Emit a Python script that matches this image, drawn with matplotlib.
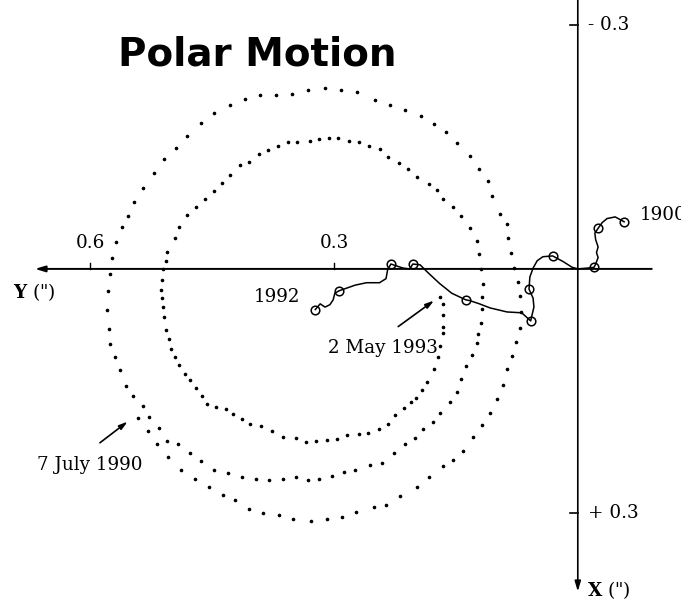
import matplotlib
matplotlib.use("Agg")
import matplotlib.pyplot as plt
import numpy as np

plt.rcParams["mathtext.fontset"] = "dejavuserif"

# ---- 5-day pole positions 7 July 1990 -> 2 May 1993 (arcsec) ----
# y_pole: positive to the left ; x_pole: positive downward
spiral_y = [0.541, 0.529, 0.518, 0.504, 0.488, 0.471, 0.454, 0.437, 0.422, 0.405,
            0.387, 0.368, 0.351, 0.328, 0.308, 0.290, 0.273, 0.251, 0.236, 0.219,
            0.198, 0.183, 0.166, 0.154, 0.141, 0.129, 0.118, 0.108, 0.100, 0.092,
            0.087, 0.081, 0.076, 0.071, 0.070, 0.071, 0.073, 0.079, 0.082, 0.086,
            0.087, 0.096, 0.105, 0.111, 0.121, 0.133, 0.149, 0.162, 0.177, 0.193,
            0.213, 0.231, 0.250, 0.272, 0.292, 0.311, 0.332, 0.352, 0.371, 0.391,
            0.410, 0.428, 0.448, 0.464, 0.481, 0.494, 0.509, 0.522, 0.535, 0.546,
            0.554, 0.561, 0.568, 0.573, 0.576, 0.578, 0.579, 0.577, 0.576, 0.569,
            0.563, 0.556, 0.547, 0.535, 0.528, 0.515, 0.506, 0.492, 0.477, 0.464,
            0.448, 0.431, 0.413, 0.396, 0.380, 0.363, 0.347, 0.332, 0.319, 0.303,
            0.288, 0.274, 0.256, 0.241, 0.226, 0.213, 0.200, 0.191, 0.178, 0.169,
            0.157, 0.149, 0.144, 0.137, 0.130, 0.124, 0.123, 0.119, 0.118, 0.118,
            0.117, 0.119, 0.121, 0.124, 0.133, 0.144, 0.154, 0.166, 0.173, 0.183,
            0.198, 0.209, 0.220, 0.234, 0.244, 0.257, 0.269, 0.282, 0.295, 0.306,
            0.319, 0.330, 0.346, 0.357, 0.369, 0.381, 0.392, 0.405, 0.416, 0.428,
            0.438, 0.448, 0.459, 0.470, 0.481, 0.491, 0.496, 0.506, 0.507, 0.510,
            0.512, 0.513, 0.512, 0.510, 0.509, 0.507, 0.503, 0.501, 0.496, 0.491,
            0.483, 0.477, 0.470, 0.462, 0.456, 0.445, 0.433, 0.424, 0.413, 0.403,
            0.390, 0.376, 0.363, 0.347, 0.335, 0.322, 0.308, 0.296, 0.284, 0.269,
            0.258, 0.245, 0.234, 0.225, 0.214, 0.205, 0.199, 0.192, 0.185, 0.177,
            0.172, 0.169, 0.166, 0.166, 0.166, 0.166, 0.170]
spiral_x = [0.183, 0.199, 0.216, 0.232, 0.247, 0.258, 0.268, 0.278, 0.285, 0.295,
            0.301, 0.303, 0.308, 0.310, 0.308, 0.305, 0.299, 0.293, 0.290, 0.280,
            0.268, 0.256, 0.242, 0.235, 0.224, 0.207, 0.192, 0.177, 0.160, 0.143,
            0.123, 0.107, 0.090, 0.073, 0.053, 0.033, 0.016, -0.001, -0.020, -0.038,
            -0.055, -0.068, -0.090, -0.108, -0.123, -0.139, -0.155, -0.169, -0.178, -0.188,
            -0.196, -0.202, -0.208, -0.218, -0.220, -0.223, -0.220, -0.215, -0.214, -0.214,
            -0.209, -0.202, -0.192, -0.180, -0.164, -0.149, -0.135, -0.118, -0.100, -0.082,
            -0.065, -0.052, -0.033, -0.014, 0.006, 0.027, 0.050, 0.074, 0.092, 0.108,
            0.125, 0.144, 0.156, 0.169, 0.182, 0.196, 0.212, 0.216, 0.226, 0.236,
            0.247, 0.251, 0.256, 0.258, 0.260, 0.258, 0.256, 0.260, 0.258, 0.255,
            0.250, 0.247, 0.241, 0.239, 0.226, 0.216, 0.208, 0.197, 0.188, 0.177,
            0.164, 0.151, 0.135, 0.119, 0.106, 0.091, 0.080, 0.066, 0.049, 0.034,
            0.018, 0.000, -0.018, -0.034, -0.050, -0.065, -0.076, -0.086, -0.097, -0.105,
            -0.113, -0.123, -0.130, -0.138, -0.148, -0.151, -0.156, -0.157, -0.161, -0.161,
            -0.160, -0.157, -0.156, -0.156, -0.151, -0.146, -0.141, -0.132, -0.128, -0.116,
            -0.106, -0.096, -0.086, -0.076, -0.066, -0.052, -0.038, -0.021, -0.010, 0.000,
            0.014, 0.026, 0.036, 0.047, 0.059, 0.075, 0.086, 0.098, 0.109, 0.118,
            0.129, 0.137, 0.146, 0.156, 0.166, 0.170, 0.173, 0.178, 0.185, 0.191,
            0.193, 0.200, 0.207, 0.208, 0.213, 0.212, 0.210, 0.209, 0.205, 0.203,
            0.202, 0.197, 0.191, 0.180, 0.171, 0.164, 0.159, 0.149, 0.139, 0.123,
            0.109, 0.095, 0.079, 0.071, 0.057, 0.043, 0.034]

# ---- Mean pole drift 1900 -> 1992 (arcsec) ----
drift_y = [-0.057, -0.046, -0.036, -0.030, -0.025, -0.021, -0.022, -0.025, -0.023, -0.025,
           -0.022, -0.020, -0.012, 0.000, 0.007, 0.018, 0.031, 0.043, 0.050, 0.055,
           0.059, 0.060, 0.055, 0.054, 0.058, 0.069, 0.087, 0.108, 0.121, 0.133,
           0.138, 0.155, 0.170, 0.185, 0.194, 0.203, 0.207, 0.215, 0.224, 0.230,
           0.234, 0.236, 0.244, 0.260, 0.274, 0.294, 0.299, 0.301, 0.305, 0.311,
           0.317, 0.323]
drift_x = [-0.058, -0.064, -0.062, -0.057, -0.050, -0.044, -0.036, -0.027, -0.020, -0.014,
           -0.006, -0.002, -0.001, 0.000, -0.002, -0.009, -0.016, -0.015, -0.010, -0.001,
           0.010, 0.025, 0.036, 0.047, 0.064, 0.054, 0.053, 0.048, 0.043, 0.039,
           0.038, 0.030, 0.018, 0.004, -0.005, -0.006, 0.000, -0.001, -0.004, -0.006,
           0.001, 0.012, 0.017, 0.017, 0.020, 0.027, 0.030, 0.038, 0.044, 0.047,
           0.043, 0.050]
drift_marks = [0, 4, 11, 16, 21, 24, 30, 35, 39, 45, 51]

# ---- axis labels ----
y_ticks = [0.3, 0.6]
y_tick_labels = ["0.3", "0.6"]
x_ticks = [-0.3, 0.3]
x_tick_labels = ["- 0.3", "+ 0.3"]

fig = plt.figure(figsize=(6.81, 6.02), dpi=100)
ax = fig.add_axes([0, 0, 1, 1])
ax.set_xlim(0.711, -0.127)
ax.set_ylim(0.410, -0.331)
ax.axis("off")

serif = "DejaVu Serif"
fs = 13.2

# axes with arrows
ax.annotate("", xy=(0.668, 0.0), xytext=(-0.091, 0.0),
            arrowprops=dict(arrowstyle="-|>,head_length=0.6,head_width=0.18",
                            lw=1.4, color="black", shrinkA=0, shrinkB=0))
ax.annotate("", xy=(0.0, 0.397), xytext=(0.0, -0.331),
            arrowprops=dict(arrowstyle="-|>,head_length=0.6,head_width=0.18",
                            lw=1.2, color="black", shrinkA=0, shrinkB=0))

# ticks
for t, lab in zip(y_ticks, y_tick_labels):
    ax.plot([t, t], [0, -0.007], color="black", lw=1.0)
    ax.text(t, -0.032, lab, ha="center", va="center", fontsize=fs, family=serif)
for t, lab in zip(x_ticks, x_tick_labels):
    ax.plot([0.0, 0.009], [t, t], color="black", lw=1.2)
    ax.text(-0.013, t, lab, ha="left", va="center", fontsize=fs, family=serif)

# axis names
ax.text(0.695, 0.028, '$\\mathbf{Y}$ (")', ha="left", va="center", fontsize=fs, family=serif)
ax.text(-0.011, 0.395, '$\\mathbf{X}$ (")', ha="left", va="center", fontsize=fs, family=serif)

# spiral of pole positions
ax.plot(spiral_y, spiral_x, linestyle="none", marker="o", markersize=1.6,
        color="black")

# mean pole drift
ax.plot(drift_y, drift_x, color="black", lw=1.1)
ax.plot([drift_y[i] for i in drift_marks], [drift_x[i] for i in drift_marks],
        linestyle="none", marker="o", markersize=6.2, markerfacecolor="none",
        markeredgecolor="black", markeredgewidth=1.1)

ax.text(0.342, 0.034, "1992", ha="right", va="center", fontsize=fs, family=serif)
ax.text(-0.076, -0.066, "1900", ha="left", va="center", fontsize=fs, family=serif)

# date annotations
ax.annotate("", xy=(0.177, 0.039), xytext=(0.221, 0.071),
            arrowprops=dict(arrowstyle="-|>,head_length=0.5,head_width=0.15",
                            lw=1.2, color="black", shrinkA=0, shrinkB=0))
ax.text(0.3075, 0.097, "2 May 1993", ha="left", va="center", fontsize=fs, family=serif)
ax.annotate("", xy=(0.554, 0.188), xytext=(0.588, 0.214),
            arrowprops=dict(arrowstyle="-|>,head_length=0.5,head_width=0.15",
                            lw=1.2, color="black", shrinkA=0, shrinkB=0))
ax.text(0.665, 0.241, "7 July 1990", ha="left", va="center", fontsize=fs, family=serif)

fig.text(257 / 681, 1 - 55 / 602, "Polar Motion", ha="center", va="center",
         fontsize=28, fontweight="bold", family="DejaVu Sans")

fig.savefig("out.png", dpi=100)
